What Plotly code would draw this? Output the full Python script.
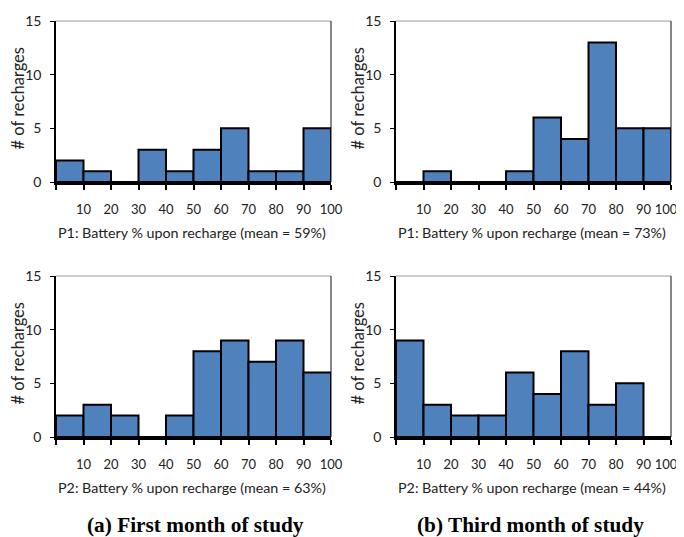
import plotly.graph_objects as go

bin_centers = [5, 15, 25, 35, 45, 55, 65, 75, 85, 95]
p1_month1 = [2, 1, 0, 3, 1, 3, 5, 1, 1, 5]
p1_month3 = [0, 1, 0, 0, 1, 6, 4, 13, 5, 5]
p2_month1 = [2, 3, 2, 0, 2, 8, 9, 7, 9, 6]
p2_month3 = [9, 3, 2, 2, 6, 4, 8, 3, 5, 0]
x_tickvals = [0, 10, 20, 30, 40, 50, 60, 70, 80, 90, 100]
x_ticktext = ["", "10", "20", "30", "40", "50", "60", "70", "80", "90", "100"]
y_tickvals = [0, 5, 10, 15]
x_titles = [
    "P1: Battery % upon recharge (mean = 59%)",
    "P1: Battery % upon recharge (mean = 73%)",
    "P2: Battery % upon recharge (mean = 63%)",
    "P2: Battery % upon recharge (mean = 44%)",
]
y_title = "# of recharges"
captions = ["(a) First month of study", "(b) Third month of study"]

OFF = 8  # page body margin
W, H = 684, 537
FONT = "Lato"
BAR = "#4F81BD"
TXT = "#222"


def px(x):
    return (x - OFF) / W


def py(y):
    return 1 - (y - OFF) / H


panels = [
    (p1_month1, (56, 331), (21, 182)),
    (p1_month3, (396, 671), (21, 182)),
    (p2_month1, (56, 331), (276, 437)),
    (p2_month3, (396, 671), (276, 437)),
]

fig = go.Figure()
layout = dict(template="none", width=W, height=H, margin=dict(l=0, r=0, t=0, b=0, pad=0),
              paper_bgcolor="white", plot_bgcolor="white", showlegend=False,
              font=dict(family=FONT, size=14, color=TXT))
shapes = []
annotations = []
for i, (vals, (x0, x1), (y0, y1)) in enumerate(panels):
    n = "" if i == 0 else str(i + 1)
    fig.add_trace(go.Bar(x=bin_centers, y=vals, width=10,
                         marker=dict(color=BAR, line=dict(color="black", width=2)),
                         xaxis="x" + n, yaxis="y" + n))
    xd = [px(x0), px(x1)]
    yd = [py(y1), py(y0)]
    ttext = list(x_ticktext)
    if i % 2 == 1:
        # keep the last label inside the visible page edge
        ttext[-1] = ttext[-1] + "\u00a0\u00a0\u00a0"
    layout["xaxis" + n] = dict(domain=xd, range=[0, 100], anchor="y" + n, automargin=False,
                               tickvals=x_tickvals, ticktext=ttext, tickangle=0,
                               ticks="outside", ticklen=5, tickwidth=1.5, tickcolor="black",
                               showline=True, linecolor="black", linewidth=2.5,
                               showgrid=False, zeroline=False, ticklabelstandoff=9,
                               tickfont=dict(family=FONT, size=13, color=TXT), fixedrange=True)
    layout["yaxis" + n] = dict(domain=yd, range=[0, 15], anchor="x" + n, automargin=False,
                               tickvals=y_tickvals, ticks="outside", ticklen=4,
                               tickwidth=1, tickcolor="black",
                               showline=True, linecolor="black", linewidth=1.5,
                               showgrid=False, zeroline=False, ticklabelstandoff=6,
                               tickfont=dict(family=FONT, size=14, color=TXT), fixedrange=True)
    shapes.append(dict(type="line", xref="paper", yref="paper", x0=xd[0], x1=xd[1],
                       y0=yd[1], y1=yd[1], line=dict(color="#999", width=1)))
    shapes.append(dict(type="line", xref="paper", yref="paper", x0=xd[1], x1=xd[1],
                       y0=yd[0], y1=yd[1], line=dict(color="#111", width=1)))
    annotations.append(dict(text=x_titles[i], xref="paper", yref="paper",
                            x=(xd[0] + xd[1]) / 2 - 1.5 / W, y=py(y1 + 51),
                            xanchor="center", yanchor="middle",
                            showarrow=False, font=dict(family=FONT, size=14.3, color=TXT)))
    annotations.append(dict(text=y_title, xref="paper", yref="paper",
                            x=px(x0 - 39), y=py((y0 + y1) / 2 - 3), textangle=-90,
                            xanchor="center", yanchor="middle",
                            showarrow=False, font=dict(family=FONT, size=16.5, color=TXT)))

for j, cap in enumerate(captions):
    annotations.append(dict(text="<b>" + cap + "</b>", xref="paper", yref="paper",
                            x=px([195, 530][j]), y=py(525),
                            xanchor="center", yanchor="middle", showarrow=False,
                            font=dict(family="Liberation Serif", size=21.3, color="black")))

layout["shapes"] = shapes
layout["annotations"] = annotations
fig.update_layout(**layout)
fig.write_html("out.html")
